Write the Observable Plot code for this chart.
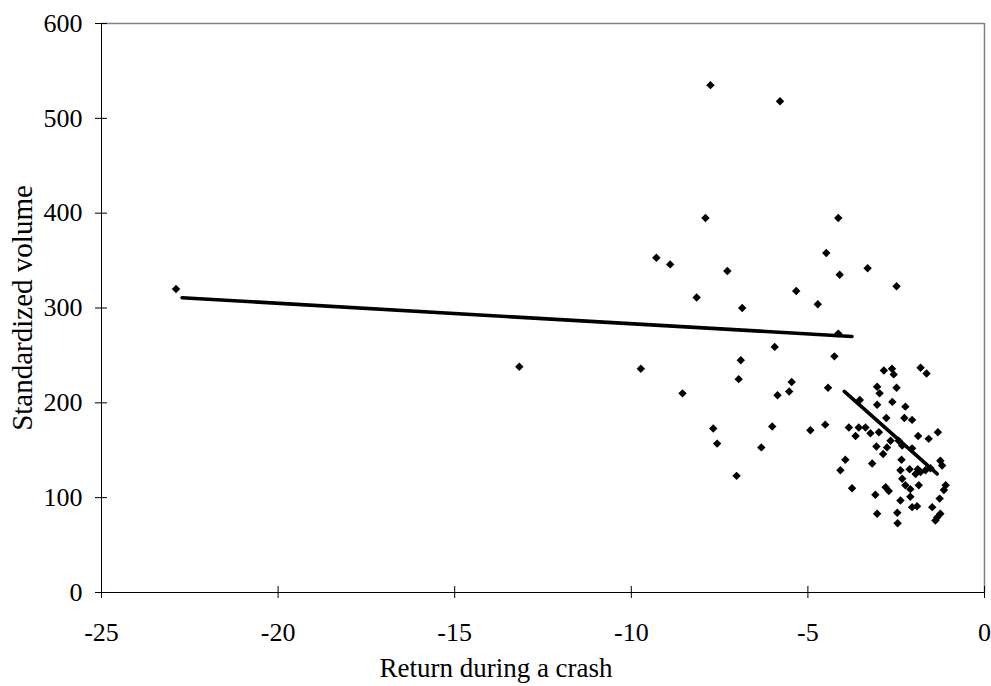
<!DOCTYPE html>
<html>
<head>
<meta charset="utf-8">
<script src="https://cdn.jsdelivr.net/npm/d3@7"></script>
<script src="https://cdn.jsdelivr.net/npm/@observablehq/plot@0.6"></script>
<style>
  html, body { margin: 0; padding: 0; background: white; }
</style>
</head>
<body>
<div id="chart"></div>
<script>
// Return during a crash (x) and standardized volume (y)
const returns = [
  -22.89, -13.17, -9.73, -9.29, -8.90, -8.55, -8.15, -7.90, -7.76, -7.68,
  -7.57, -7.28, -7.02, -6.96, -6.90, -6.86, -6.32, -6.01, -5.94, -5.86,
  -5.79, -5.53, -5.46, -5.33, -4.93, -4.72, -4.51, -4.48, -4.43, -4.25,
  -4.14, -4.10, -4.14, -4.08, -3.31, -2.49,
  -2.85, -2.62, -2.57, -1.81, -1.64, -3.04, -2.97, -2.49, -3.53, -3.04,
  -2.61, -2.24, -2.78, -2.27, -2.05, -3.84, -3.56, -3.37, -3.65, -3.23,
  -2.99, -1.88, -1.58, -1.32, -2.66, -3.06, -2.76, -2.87, -2.43, -2.33,
  -2.05, -3.94, -3.18, -2.35, -2.38, -2.12, -1.89, -1.81, -1.67, -1.53,
  -2.33, -1.95, -1.25, -1.20, -3.75, -3.09, -2.80, -2.71, -2.24, -2.10,
  -1.86, -2.10, -2.38, -1.10, -1.15, -1.27, -2.05, -1.91, -1.48, -3.04,
  -2.47, -2.46, -1.34, -1.25, -1.39
];
const volumes = [
  320, 238, 236, 353, 346, 210, 311, 395, 535, 173,
  157, 339, 123, 225, 245, 300, 153, 175, 259, 208,
  518, 212, 222, 318, 171, 304, 177, 358, 216, 249,
  395, 335, 273, 129, 342, 323,
  234, 236, 230, 237, 231, 217, 210, 216, 203, 198,
  201, 196, 184, 184, 182, 174, 174, 174, 165, 168,
  169, 165, 162, 169, 160, 154, 153, 146, 160, 155,
  152, 140, 136, 140, 129, 130, 130, 127, 129, 131,
  120, 125, 139, 134, 110, 103, 111, 107, 113, 109,
  113, 101, 97, 113, 108, 99, 90, 91, 90, 83,
  84, 73, 79, 83, 76
];
// Fitted trend lines (end points)
const fit1X = [-22.72, -3.75];
const fit1Y = [310.8, 270];
const fit2X = [-3.97, -1.34];
const fit2Y = [212, 125];

const xTicks = [-25, -20, -15, -10, -5, 0];
const yTicks = [0, 100, 200, 300, 400, 500, 600];
const xLabel = "Return during a crash";
const yLabel = "Standardized volume";

const points = returns.map((r, i) => ({x: r, y: volumes[i]}));
const line1 = fit1X.map((x, i) => ({x, y: fit1Y[i]}));
const line2 = fit2X.map((x, i) => ({x, y: fit2Y[i]}));

const chart = Plot.plot({
  width: 991,
  height: 686,
  marginLeft: 101,
  marginRight: 7,
  marginTop: 23,
  marginBottom: 94,
  style: {fontFamily: "'Liberation Serif', 'Times New Roman', serif", fontSize: "26px", color: "black", background: "white"},
  x: {domain: [-25, 0]},
  y: {domain: [0, 600]},
  marks: [
    Plot.ruleY([600], {stroke: "#808080", strokeWidth: 1.5}),
    Plot.ruleX([0], {stroke: "#808080", strokeWidth: 1.5}),
    Plot.ruleX([-25], {stroke: "black", strokeWidth: 1}),
    Plot.ruleY([0], {stroke: "black", strokeWidth: 1}),
    Plot.axisX({ticks: xTicks, tickSize: 12, dy: -6, tickFormat: () => "", label: null, stroke: "black"}),
    Plot.axisX({ticks: xTicks, tickSize: 0, tickPadding: 30, tickFormat: d => String(d), label: null, fill: "black"}),
    Plot.axisY({ticks: yTicks, tickSize: 12, dx: 6, tickFormat: () => "", label: null, stroke: "black"}),
    Plot.axisY({ticks: yTicks, tickSize: 0, tickPadding: 19, tickFormat: d => String(d), label: null, fill: "black"}),
    Plot.line(line1, {x: "x", y: "y", stroke: "black", strokeWidth: 3.6}),
    Plot.line(line2, {x: "x", y: "y", stroke: "black", strokeWidth: 3.6}),
    Plot.dot(points, {x: "x", y: "y", symbol: "diamond2", r: 3.8, fill: "black", stroke: "none"}),
    Plot.text([xLabel], {text: d => d, frameAnchor: "bottom", dy: 84, dx: -47, fontSize: 27, fill: "black"}),
    Plot.text([yLabel], {text: d => d, frameAnchor: "left", textAnchor: "middle", rotate: -90, dx: -79, fontSize: 29, fill: "black"})
  ]
});
document.getElementById("chart").appendChild(chart);
</script>
</body>
</html>
